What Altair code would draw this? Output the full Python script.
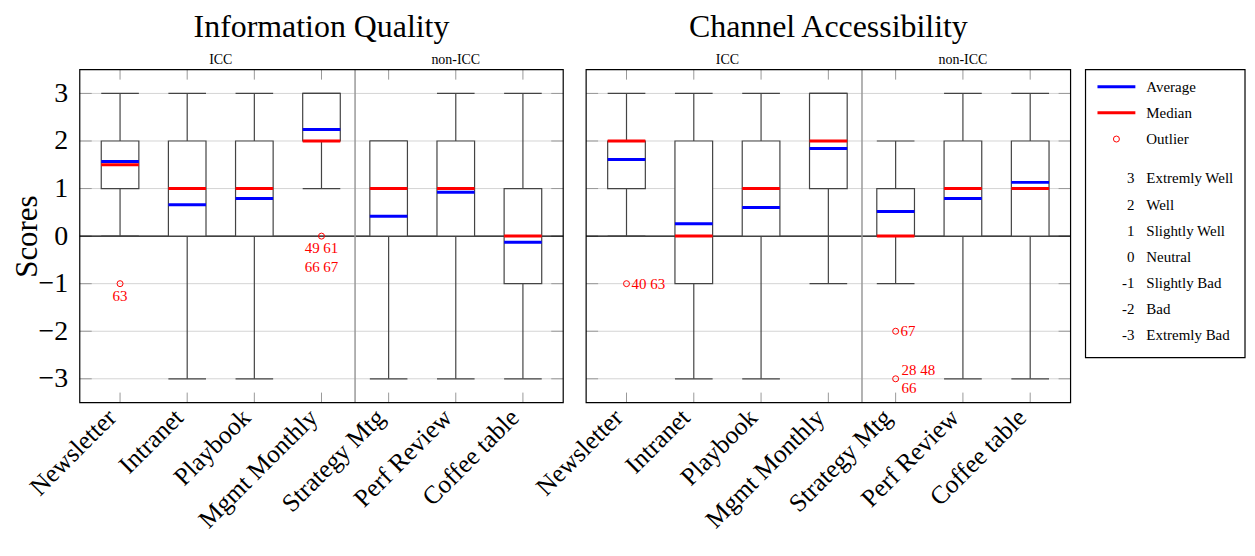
import altair as alt
import pandas as pd

# ---------------- data ----------------
categories = ["Newsletter", "Intranet", "Playbook", "Mgmt Monthly",
              "Strategy Mtg", "Perf Review", "Coffee table"]
positions = list(range(1, len(categories) + 1))
group_names = ["ICC", "non-ICC"]
group_centers = [2.5, 6.0]
divider_at = [4.5]
score_ticks = [-3, -2, -1, 0, 1, 2, 3]
panel_titles = ["Information Quality", "Channel Accessibility"]

# Information Quality
iq_low = [0, -3, -3, 1, -3, -3, -3]
iq_q1 = [1, 0, 0, 2, 0, 0, -1]
iq_median = [1.5, 1, 1, 2, 1, 1, 0]
iq_q3 = [2, 2, 2, 3, 2, 2, 1]
iq_high = [3, 3, 3, 3, 2, 3, 3]
iq_avg = [1.57, 0.66, 0.79, 2.24, 0.42, 0.92, -0.13]
iq_out_cat = ["Newsletter", "Mgmt Monthly"]
iq_out_val = [-1, 0]
iq_lab_cat = ["Newsletter", "Mgmt Monthly", "Mgmt Monthly"]
iq_lab_val = [-1, 0, 0]
iq_lab_text = ["63", "49 61", "66 67"]
iq_lab_place = ["below", "below", "below2"]

# Channel Accessibility
ca_low = [0, -3, -3, -1, -1, -3, -3]
ca_q1 = [1, -1, 0, 1, 0, 0, 0]
ca_median = [2, 0, 1, 2, 0, 1, 1]
ca_q3 = [2, 2, 2, 3, 1, 2, 2]
ca_high = [3, 3, 3, 3, 2, 3, 3]
ca_avg = [1.61, 0.26, 0.60, 1.84, 0.52, 0.79, 1.13]
ca_out_cat = ["Newsletter", "Strategy Mtg", "Strategy Mtg"]
ca_out_val = [-1, -2, -3]
ca_lab_cat = ["Newsletter", "Strategy Mtg", "Strategy Mtg", "Strategy Mtg"]
ca_lab_val = [-1, -2, -3, -3]
ca_lab_text = ["40 63", "67", "28 48", "66"]
ca_lab_place = ["right", "right", "above right", "below right"]

# legend
legend_marks = ["Average", "Median", "Outlier"]
legend_mark_rows = [0, 1, 2]
scale_numbers = ["3", "2", "1", "0", "-1", "-2", "-3"]
scale_names = ["Extremly Well", "Well", "Slightly Well", "Neutral",
               "Slightly Bad", "Bad", "Extremly Bad"]
scale_rows = [3.5, 4.5, 5.5, 6.5, 7.5, 8.5, 9.5]

# ---------------- style ----------------
FONT = "Liberation Serif"
H = 334
HALF = 0.28
BOXC = "#444444"
X_LO, X_HI = 0.4, 7.6
YS = alt.Scale(domain=[-3.5, 3.5], nice=False, zero=False)
NOFRAME = alt.ViewBackground(stroke="transparent")

PLACES = {
    "below": dict(align="center", baseline="middle", dx=0, dy=12),
    "below2": dict(align="center", baseline="middle", dx=0, dy=31),
    "right": dict(align="left", baseline="middle", dx=5, dy=0),
    "above right": dict(align="left", baseline="middle", dx=6, dy=-9),
    "below right": dict(align="left", baseline="middle", dx=6, dy=9),
}

label_expr = "[" + ",".join("'%s'" % c for c in categories) + "][datum.value - 1]"


def make_panel(title, low, q1, med, q3, high, avg, out_cat, out_val,
               lab_cat, lab_val, lab_text, lab_place, show_y, frame_w, view_w):
    ppu = frame_w / (X_HI - X_LO)
    xs = alt.Scale(domain=[X_LO, X_LO + view_w / ppu], nice=False, zero=False)
    xaxis = alt.Axis(values=positions, labelExpr=label_expr, labelAngle=-45,
                     labelAlign="right", labelBaseline="top", labelFont=FONT,
                     labelFontSize=25.5, labelColor="black", labelPadding=2,
                     labelOffset=-17, labelLimit=500,
                     labelOverlap=False, labelFlush=False, ticks=False,
                     domain=False, grid=False, title=None)
    if show_y:
        yaxis = alt.Axis(values=score_ticks, labelFont=FONT, labelFontSize=28,
                         labelColor="black", labelPadding=12, ticks=False,
                         domain=False, grid=False, title="Scores",
                         titleFont=FONT, titleFontSize=31,
                         titleFontWeight="normal", titleColor="black",
                         titleAngle=270, titleX=-43, titleY=H / 2,
                         titleAlign="center", titleBaseline="alphabetic")
    else:
        yaxis = None

    def X(f):
        return alt.X(f, type="quantitative", scale=xs, axis=xaxis)

    def Y(f):
        return alt.Y(f, type="quantitative", scale=YS, axis=yaxis)

    box_df = pd.DataFrame(dict(cat=categories, pos=positions, low=low, q1=q1,
                               med=med, q3=q3, high=high, avg=avg))
    base = alt.Chart(box_df).transform_calculate(
        left="datum.pos - %f" % HALF, right="datum.pos + %f" % HALF)

    grid_df = pd.DataFrame({"v": [t for t in score_ticks if t != 0]})
    grid = alt.Chart(grid_df).mark_rule(color="#d4d4d4", strokeWidth=1).encode(
        y=Y("v"), x=alt.value(0), x2=alt.value(frame_w))
    zero = alt.Chart(pd.DataFrame({"v": [0]})).mark_rule(
        color="black", strokeWidth=1.2).encode(
        y=Y("v"), x=alt.value(0), x2=alt.value(frame_w))

    tick_df = pd.DataFrame({"pos": positions})
    ticks_top = alt.Chart(tick_df).mark_rule(color="#999999").encode(
        x=X("pos"), y=alt.value(0), y2=alt.value(10))
    ticks_bot = alt.Chart(tick_df).mark_rule(color="#999999").encode(
        x=X("pos"), y=alt.value(H - 10), y2=alt.value(H))
    ytick_df = pd.DataFrame({"v": score_ticks})
    ticks_l = alt.Chart(ytick_df).mark_rule(color="#999999").encode(
        y=Y("v"), x=alt.value(0), x2=alt.value(12))
    ticks_r = alt.Chart(ytick_df).mark_rule(color="#999999").encode(
        y=Y("v"), x=alt.value(frame_w - 12), x2=alt.value(frame_w))

    divider = alt.Chart(pd.DataFrame({"d": divider_at})).mark_rule(
        color="#9a9a9a", strokeWidth=1.5).encode(
        x=X("d"), y=alt.value(0), y2=alt.value(H))

    whisk_lo = base.mark_rule(color=BOXC, strokeWidth=1.2).encode(
        x=X("pos"), y=Y("low"), y2=alt.Y2("q1"))
    whisk_hi = base.mark_rule(color=BOXC, strokeWidth=1.2).encode(
        x=X("pos"), y=Y("q3"), y2=alt.Y2("high"))
    cap_lo = base.mark_rule(color=BOXC, strokeWidth=1.2).encode(
        x=X("left"), x2=alt.X2("right"), y=Y("low"))
    cap_hi = base.mark_rule(color=BOXC, strokeWidth=1.2).encode(
        x=X("left"), x2=alt.X2("right"), y=Y("high"))
    boxes = base.mark_rect(fill="white", stroke=BOXC, strokeWidth=1.2).encode(
        x=X("left"), x2=alt.X2("right"), y=Y("q1"), y2=alt.Y2("q3"))
    medians = base.mark_rule(color="#ff0000", strokeWidth=3).encode(
        x=X("left"), x2=alt.X2("right"), y=Y("med"))
    avgs = base.mark_rule(color="#0000ff", strokeWidth=3).encode(
        x=X("left"), x2=alt.X2("right"), y=Y("avg"))

    out_df = pd.DataFrame({"pos": [categories.index(c) + 1 for c in out_cat],
                           "val": out_val})
    outs = alt.Chart(out_df).mark_point(shape="circle", filled=False, color="red",
                                        size=36, strokeWidth=1, opacity=1).encode(
        x=X("pos"), y=Y("val"))

    lab_df = pd.DataFrame({"pos": [categories.index(c) + 1 for c in lab_cat],
                           "val": lab_val, "txt": lab_text, "place": lab_place})
    lab_layers = []
    for p in dict.fromkeys(lab_place):
        cfg = PLACES[p]
        lab_layers.append(
            alt.Chart(lab_df).transform_filter(alt.datum.place == p).mark_text(
                font=FONT, fontSize=15, color="red", **cfg).encode(
                x=X("pos"), y=Y("val"), text="txt:N"))

    sub_df = pd.DataFrame({"g": group_names, "c": group_centers})
    subs = alt.Chart(sub_df).mark_text(font=FONT, fontSize=14, color="black",
                                       baseline="alphabetic").encode(
        x=X("c"), y=alt.value(-6), text="g:N")
    ttl = alt.Chart(pd.DataFrame({"t": [title]})).mark_text(
        font=FONT, fontSize=32, color="black", baseline="alphabetic").encode(
        x=alt.value(frame_w / 2), y=alt.value(-33), text="t:N")
    frame = alt.Chart(pd.DataFrame({"k": [0]})).mark_rect(
        fillOpacity=0, stroke="black", strokeWidth=1.2).encode(
        x=alt.value(0), x2=alt.value(frame_w), y=alt.value(0), y2=alt.value(H))

    return alt.layer(grid, ticks_l, ticks_r, ticks_top, ticks_bot, zero,
                     divider, whisk_lo, whisk_hi, cap_lo, cap_hi, boxes,
                     medians, avgs, outs, *lab_layers, subs, ttl, frame).properties(
        width=view_w, height=H, view=NOFRAME)


SP = 15
p1 = make_panel(panel_titles[0], iq_low, iq_q1, iq_median, iq_q3, iq_high, iq_avg,
                iq_out_cat, iq_out_val, iq_lab_cat, iq_lab_val, iq_lab_text,
                iq_lab_place, True, 485, 485 + 8)
p2 = make_panel(panel_titles[1], ca_low, ca_q1, ca_median, ca_q3, ca_high, ca_avg,
                ca_out_cat, ca_out_val, ca_lab_cat, ca_lab_val, ca_lab_text,
                ca_lab_place, False, 486, 486)

# ---------------- legend panel ----------------
LW, LH = 160, 289
LS = alt.Scale(domain=[-0.65, 10.35], reverse=True, nice=False, zero=False)
leg_frame = alt.Chart(pd.DataFrame({"k": [0]})).mark_rect(
    fillOpacity=0, stroke="black", strokeWidth=1.2).encode(
    x=alt.value(0), x2=alt.value(LW), y=alt.value(0), y2=alt.value(LH))
leg_line_df = pd.DataFrame({"row": legend_mark_rows[:2],
                            "col": ["#0000ff", "#ff0000"]})
leg_lines = alt.Chart(leg_line_df).mark_rule(strokeWidth=3).encode(
    y=alt.Y("row:Q", scale=LS, axis=None),
    color=alt.Color("col:N", scale=None),
    x=alt.value(12), x2=alt.value(50))
leg_pt = alt.Chart(pd.DataFrame({"row": legend_mark_rows[2:]})).mark_point(
    shape="circle", filled=False, color="red", size=36, strokeWidth=1, opacity=1).encode(
    y=alt.Y("row:Q", scale=LS, axis=None), x=alt.value(31))
leg_names_df = pd.DataFrame({"row": legend_mark_rows + scale_rows,
                             "txt": legend_marks + scale_names})
leg_names = alt.Chart(leg_names_df).mark_text(
    font=FONT, fontSize=15, color="black", align="left", baseline="middle").encode(
    y=alt.Y("row:Q", scale=LS, axis=None), x=alt.value(61), text="txt:N")
leg_nums_df = pd.DataFrame({"row": scale_rows, "txt": scale_numbers})
leg_nums = alt.Chart(leg_nums_df).mark_text(
    font=FONT, fontSize=15, color="black", align="right", baseline="middle").encode(
    y=alt.Y("row:Q", scale=LS, axis=None), x=alt.value(49), text="txt:N")
legend = alt.layer(leg_frame, leg_lines, leg_pt, leg_names, leg_nums).properties(
    width=LW, height=LH, view=NOFRAME)

chart = alt.hconcat(p1, p2, legend, spacing=SP, bounds="flush").properties(
    padding={"left": 3, "top": 1, "right": 0, "bottom": 0}
).configure_view(stroke="transparent").configure(background="white")

chart.save("out.html", embed_options={"renderer": "svg", "actions": False})
